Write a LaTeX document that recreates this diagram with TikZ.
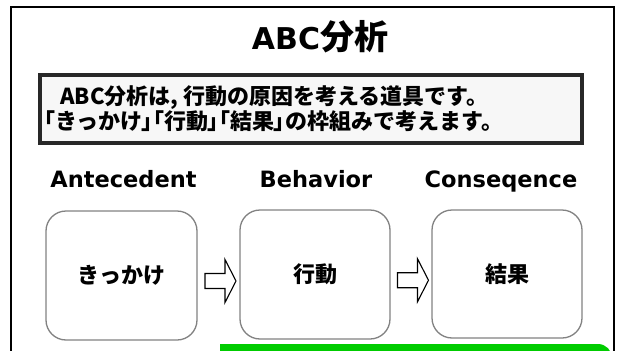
\documentclass[tikz,border=0pt]{standalone}
\usepackage{fontspec}
\newfontfamily\jp{Noto Sans CJK JP}
\newfontfamily\jpp{Noto Sans CJK JP}[RawFeature=+palt]
\newfontfamily\dv{DejaVu Sans}
\newcommand{\brk}[1]{{\jpp #1}}
\usetikzlibrary{calc}
\definecolor{framegray}{RGB}{40,40,40}
\definecolor{boxgray}{RGB}{130,130,130}
\definecolor{barfill}{RGB}{0,204,0}
\tikzset{
  x=1pt, y=-1pt,
  frame/.style={draw=black, line width=2.8pt},
  notebox/.style={draw=framegray, line width=3.2pt, fill=white!97!black},
  stagebox/.style={draw=boxgray, line width=1.3pt, rounded corners=20pt, fill=white},
  stagelabel/.style={font=\dv\bfseries\fontsize{22.5}{26}\selectfont, anchor=base, inner sep=0pt},
  boxtext/.style={font=\jp\bfseries\fontsize{22}{26}\selectfont, inner sep=0pt},
  notetext/.style={font=\jp\bfseries\fontsize{22}{26}\selectfont, anchor=west, inner sep=0pt},
  blockarr/.style={draw=black, line width=1.1pt, fill=white, line join=miter},
}
\begin{document}
\begin{tikzpicture}
\useasboundingbox (0,0) rectangle (619,351);
% outer frame
\draw[frame] (11,370) -- (11,7) -- (614,7) -- (614,370);
% title
\node[inner sep=0pt] (title) at (320,37) {{\dv\bfseries\fontsize{30}{34}\selectfont ABC}{\jp\bfseries\fontsize{34}{38}\selectfont 分析}};
% note box
\node[notebox, minimum width=542pt, minimum height=68pt, inner sep=0pt] (note) at (311,109) {};
\node[notetext] (l1) at (60,98) {ABC分析は, 行動の原因を考える道具です。};
\node[notetext] (l2) at (44,121) {\brk{「}きっかけ\brk{」「}行動\brk{」「}結果\brk{」}の枠組みで考えます。};
% labels
\node[stagelabel] (la) at (123.5,187) {Antecedent};
\node[stagelabel] (lb) at (316,187) {Behavior};
\node[stagelabel] (lc) at (501,187) {Conseqence};
% boxes
\node[stagebox, minimum width=151pt, minimum height=129pt] (b1) at (121.5,275.5) {};
\node[stagebox, minimum width=150pt, minimum height=129pt] (b2) at (315,274.5) {};
\node[stagebox, minimum width=150pt, minimum height=128pt] (b3) at (507,274) {};
\node[boxtext] (t1) at (b1.center) {きっかけ};
\node[boxtext] (t2) at (b2.center) {行動};
\node[boxtext] (t3) at (b3.center) {結果};
% block arrows
\coordinate (m1) at ($(b1.east)!0.5!(b2.west)+(2,6)$);
\coordinate (m2) at ($(b2.east)!0.5!(b3.west)+(2,6)$);
\foreach \m in {m1,m2}{
  \draw[blockarr, shift={(\m)}] (-15.5,-7.5) -- (4.5,-7.5) -- (4.5,-21.5) -- (15.5,0) -- (4.5,21.5) -- (4.5,7.5) -- (-15.5,7.5) -- cycle;
}
% green bar
\fill[barfill] (220,344) -- (598,344) arc[start angle=90, end angle=0, radius=14pt] -- (612,370) -- (220,370) -- cycle;
\end{tikzpicture}
\end{document}
